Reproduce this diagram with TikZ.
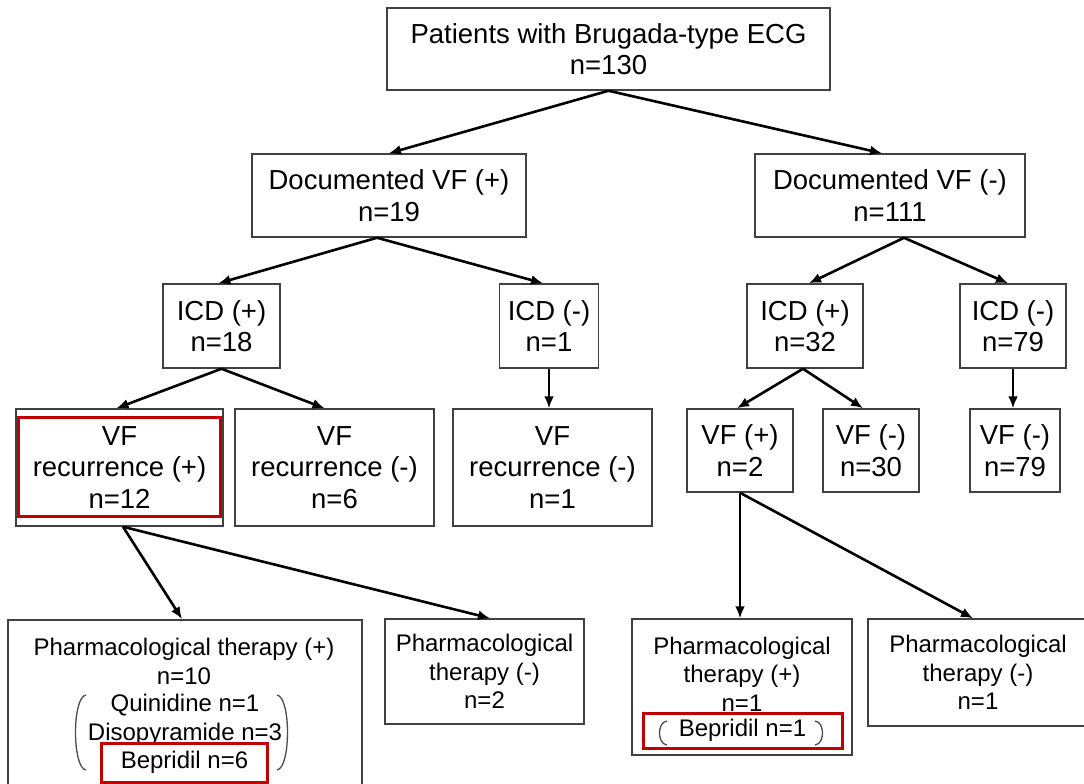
\documentclass[tikz,border=0pt]{standalone}
\usepackage{fontspec}
\setmainfont{Liberation Sans}
\usetikzlibrary{arrows.meta}
\definecolor{hlred}{RGB}{192,0,0}

\begin{document}
\begin{tikzpicture}[x=1pt, y=-1pt,
		box/.style={draw=black!75, line width=1.5pt, align=center, inner sep=0pt,
			font=\fontsize{27.5}{31.5}\selectfont},
		smallbox/.style={box, font=\fontsize{24}{28.5}\selectfont},
		txt/.style={align=center, inner sep=0pt, font=\fontsize{24}{28.5}\selectfont},
		hilite/.style={draw=hlred, line width=3pt},
		arr/.style={-{Latex[length=12pt,width=10pt]}, line width=2.6pt},
		paren/.style={draw=black!70, line width=1.3pt}]
	\useasboundingbox (0,0) rectangle (1084,784);
	\clip (0,0) rectangle (1084,784);
 		%% root
 			\node[box, minimum width=443pt, minimum height=82pt] (top) at (608.5,49)
 				{Patients with Brugada-type ECG\\n=130};
 		%% documented VF
 			\node[box, minimum width=274pt, minimum height=83pt] (docP) at (389,195.5)
 				{Documented VF (+)\\n=19};
 			\node[box, minimum width=270pt, minimum height=83pt] (docM) at (890,195.5)
 				{Documented VF (-)\\n=111};
 		%% ICD
 			\node[box, minimum width=117pt, minimum height=84pt] (icdP1) at (221.5,326)
 				{ICD (+)\\n=18};
 			\node[box, minimum width=99pt, minimum height=84pt] (icdM1) at (549,326)
 				{ICD (-)\\n=1};
 			\node[box, minimum width=116pt, minimum height=84pt] (icdP2) at (805,326)
 				{ICD (+)\\n=32};
 			\node[box, minimum width=106pt, minimum height=84pt] (icdM2) at (1013,326)
 				{ICD (-)\\n=79};
 		%% VF recurrence
 			\node[box, minimum width=207pt, minimum height=117pt] (vfrP) at (119.5,467.5)
 				{VF\\recurrence (+)\\n=12};
 			\node[box, minimum width=199pt, minimum height=117pt] (vfrM) at (334.5,467.5)
 				{VF\\recurrence (-)\\n=6};
 			\node[box, minimum width=199pt, minimum height=117pt] (vfrM1) at (552.5,467.5)
 				{VF\\recurrence (-)\\n=1};
 			\node[box, minimum width=106pt, minimum height=83pt] (vfP) at (740,450.5)
 				{VF (+)\\n=2};
 			\node[box, minimum width=96pt, minimum height=83pt] (vfM) at (871,450.5)
 				{VF (-)\\n=30};
 			\node[box, minimum width=90pt, minimum height=83pt] (vfM2) at (1015,450.5)
 				{VF (-)\\n=79};
 			\draw[hilite] ([shift={(3,9)}]vfrP.north west) rectangle
 				([shift={(-3,-10)}]vfrP.south east);
 		%% pharmacological therapy
 			\node[smallbox, minimum width=354pt, minimum height=180pt, anchor=north]
 				(phP) at (185,619) {};
 			\node[txt] (phPt) at (184,661.5) {Pharmacological therapy (+)\\n=10};
 			\node[txt] (drugs) at (185,720) {Quinidine n=1\\Disopyramide n=3};
 			\node[hilite, txt, minimum width=166pt, minimum height=39pt] (bep6)
 				at (184.5,762.5) {Bepridil n=6};
 			\draw[paren] (86,695) .. controls (72,697) and (72,768) .. (86,770);
 			\draw[paren] (277,695) .. controls (291,697) and (291,768) .. (277,770);
 			\node[smallbox, minimum width=199pt, minimum height=105pt] (phM) at (484.5,671.5)
 				{Pharmacological\\therapy (-)\\n=2};
 			\node[smallbox, minimum width=220pt, minimum height=136pt] (phP2) at (742,687) {};
 			\node[txt] (phP2t) at (742,674) {Pharmacological\\therapy (+)\\n=1};
 			\node[hilite, txt, minimum width=199pt, minimum height=35pt] (bep1)
 				at (742.5,730.5) {Bepridil n=1};
 			\draw[paren] (667,721) .. controls (657,722) and (657,744) .. (667,745);
 			\draw[paren] (815,721) .. controls (825,722) and (825,744) .. (815,745);
 			\node[smallbox, minimum width=220pt, minimum height=107pt] (phM2) at (978,672.5)
 				{Pharmacological\\therapy (-)\\n=1};
 		%% arrows
 			\draw[arr] (top.south) -- (docP.north);
 			\draw[arr] (top.south) -- ([xshift=-8pt]docM.north);
 			\draw[arr] ([xshift=-12pt]docP.south) -- ([xshift=-3pt]icdP1.north);
 			\draw[arr] ([xshift=-12pt]docP.south) -- ([xshift=-6pt]icdM1.north);
 			\draw[arr] ([xshift=14pt]docM.south) -- ([xshift=4pt]icdP2.north);
 			\draw[arr] ([xshift=14pt]docM.south) -- ([xshift=-5pt]icdM2.north);
 			\draw[arr] (icdP1.south) -- ([xshift=-3pt]vfrP.north);
 			\draw[arr] (icdP1.south) -- ([xshift=-10pt]vfrM.north);
 			\draw[arr] (icdM1.south) -- (icdM1.south |- vfrM1.north);
 			\draw[arr] ([xshift=-2pt]icdP2.south) -- ([xshift=-3pt]vfP.north);
 			\draw[arr] ([xshift=-2pt]icdP2.south) -- ([xshift=-8pt]vfM.north);
 			\draw[arr] (icdM2.south) -- (icdM2.south |- vfM2.north);
 			\draw[arr] ([xshift=3.5pt]vfrP.south) -- ([xshift=-3pt]phP.north);
 			\draw[arr] ([xshift=3.5pt]vfrP.south) -- ([xshift=5.5pt]phM.north);
 			\draw[arr] (vfP.south) -- (vfP.south |- phP2.north);
 			\draw[arr] (vfP.south) -- ([xshift=-5pt]phM2.north);
\end{tikzpicture}
\end{document}
